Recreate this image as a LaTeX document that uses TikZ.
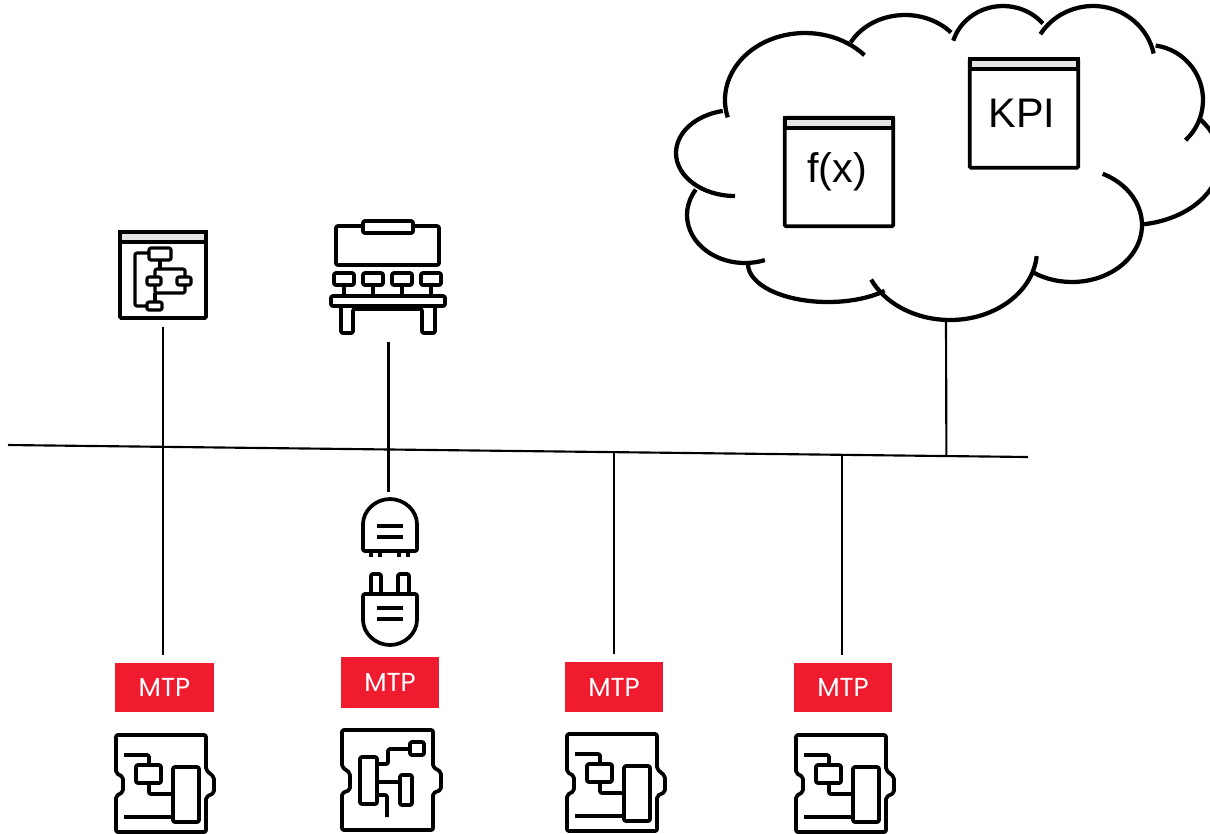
\documentclass[tikz,border=0pt]{standalone}
\usepackage{fontspec}
\setmainfont{Liberation Sans}
\newfontfamily\mtpfont{Poppins}
\usetikzlibrary{positioning}

\definecolor{mtpred}{HTML}{EE1C2E}
\definecolor{barfill}{HTML}{E4E4E4}

\tikzset{
    cloudline/.style={line width=3.2pt, line cap=butt},
    wire/.style={line width=1.6pt},
    iconline/.style={line width=2.8pt, line join=round, rounded corners=1.5pt},
    window/.style={draw, line width=2.8pt, rectangle, rounded corners=1pt, inner sep=0pt, fill=white, font=\fontsize{31}{31}\selectfont},
    mtpbox/.style={fill=mtpred, text=white, inner sep=0pt, minimum width=74pt, minimum height=37pt, font=\mtpfont\fontsize{19.5}{19.5}\selectfont},
    iconbox/.style={rectangle, inner sep=0pt},
    pics/modulea/.style={code={
        \draw[iconline] (0,0) -- (0,38) -- (7,42) -- (7,57) -- (0,61) -- (0,97) -- (90,97) -- (90,62)
            -- (98,58) -- (98,42) -- (90,35) -- (90,0) -- cycle;
        \draw[iconline] (8,20) -- (33,20) -- (33,30);
        \draw[iconline] (20,30) rectangle (45,48);
        \draw[iconline] (33,48) -- (33,59) -- (57,59);
        \draw[iconline] (57,32) rectangle (83,87);
        \draw[iconline] (8,82) -- (57,82);
    }},
    pics/moduleb/.style={code={
        \draw[iconline] (0,0) -- (0,37) -- (8,43) -- (8,60) -- (0,63) -- (0,100) -- (91,100) -- (91,63)
            -- (99,60) -- (99,42) -- (91,37) -- (91,0) -- cycle;
        \draw[iconline] (18,27) rectangle (35,74);
        \draw[iconline] (35,34) -- (46,34) -- (46,19) -- (68,19);
        \draw[iconline] (68,12) rectangle (82,25);
        \draw[iconline] (35,52) -- (58,52);
        \draw[iconline] (58,45) rectangle (70,75);
        \draw[iconline] (35,65) -- (45,65) -- (45,87);
    }},
}

\newcommand{\titlebar}[1]{\draw[line width=2.8pt, fill=barfill] ([xshift=1.4pt, yshift=-1.4pt]#1.north west) rectangle ([xshift=-1.4pt, yshift=-9pt]#1.north east);}
% one lobe of the cloud: centre x, centre y, x radius, y radius, first angle, last angle
\newcommand{\lobe}[6]{\draw[cloudline] ({#1+#3*cos(#5)},{#2+#4*sin(#5)}) arc[start angle=#5, end angle=#6, x radius=#3, y radius=#4];}

\begin{document}
\begin{tikzpicture}[x=0.75pt, y=-0.75pt]
    \useasboundingbox (0,0) rectangle (1210,833);

    % cloud
    \lobe{805}{100}{80}{67}{165}{318}
    \lobe{905}{68}{62}{53}{209}{318}
    \lobe{1003}{55}{52}{49}{197}{320}
    \lobe{1093}{66}{62}{60}{212}{348}
    \lobe{1148}{100}{55}{55}{278}{407}
    \lobe{1130}{160}{90}{65}{320}{441}
    \lobe{1072}{225}{70}{57}{296}{483}
    \lobe{950}{250}{87}{70}{5}{155}
    \lobe{828}{264}{80}{38}{45}{180}
    \lobe{745}{215}{58}{48}{70}{212}
    \lobe{735}{153}{59}{43}{90}{258}
    \coordinate (cloudfoot) at (946,320);

    \node[window, minimum width=81.5pt, minimum height=81.5pt] (kpi) at (1024,113.5) {\raisebox{-2pt}{\kern-3pt KPI}};
    \node[window, minimum width=81.5pt, minimum height=81.5pt] (fx) at (839,172) {\raisebox{-2.5pt}{\kern-3pt f(x)}};
    \titlebar{kpi}
    \titlebar{fx}

    % icons on top
    \node[window, minimum width=64.5pt, minimum height=64.5pt] (flow) at (163,275) {};
    \titlebar{flow}
    \begin{scope}[iconline/.append style={line width=2.4pt}]
    \draw[iconline] (149,248) rectangle (171,260);
    \draw[iconline] (160,260) -- (160,269);
    \draw[iconline] (155,277) -- (155,269) -- (185,269) -- (185,277);
    \draw[iconline] (147,277) rectangle (161,285);
    \draw[iconline] (177,277) rectangle (191,285);
    \draw[iconline] (155,285) -- (155,293) -- (185,293) -- (185,285);
    \draw[iconline] (155,293) -- (155,302);
    \draw[iconline] (147,302) rectangle (162,310);
    \draw[iconline] (149,253) -- (135,253) -- (135,306) -- (147,306);
    \end{scope}

    \node[iconbox, minimum width=87pt, minimum height=85pt] (bench) at (388.5,278) {};
    \draw[iconline] (336,226) rectangle (439,265);
    \draw[iconline, fill=white] (363,221) rectangle (413,233);
    \foreach \x in {334,363,392,421} {
        \draw[iconline] (\x,273) rectangle (\x+20,285);
        \draw[iconline] (\x+10,285) -- (\x+10,296);
    }
    \draw[iconline] (331,296) rectangle (445,306);
    \draw[iconline] (341,306) -- (341,333) -- (353,333) -- (353,309) -- (422,309) -- (422,333) -- (435,333) -- (435,306);

    % socket and plug
    \node[iconbox, minimum width=40pt, minimum height=44pt] (socket) at (390,528) {};
    \draw[iconline] (363,551) -- (363,526) arc[start angle=180, end angle=360, radius=27] -- (417,551) -- cycle;
    \draw[iconline] (377,526) -- (403,526) (377,537) -- (403,537);
    \foreach \x in {371,380,399,408} {
        \draw[line width=2.4pt] (\x,551) -- (\x,557);
    }
    \draw[iconline] (371,594) -- (371,574) -- (381,574) -- (381,594);
    \draw[iconline] (398,594) -- (398,574) -- (409,574) -- (409,594);
    \draw[iconline] (363,594) -- (417,594) -- (417,618) arc[start angle=0, end angle=180, radius=27] -- cycle;
    \draw[iconline] (377,608) -- (403,608) (377,619) -- (403,619);

    % bottom row
    \node[mtpbox] (mtpa) at (164.5,687.5) {MTP};
    \node[mtpbox, minimum height=38pt] (mtpb) at (390,682.5) {MTP};
    \node[mtpbox] (mtpc) at (614,687) {MTP};
    \node[mtpbox] (mtpd) at (843,687.5) {MTP};

    \pic at (116,735) {modulea};
    \pic at (342,730) {moduleb};
    \pic at (567,734) {modulea};
    \pic at (796,735) {modulea};

    % bus and connectors
    \coordinate (busleft) at (8,445);
    \coordinate (busright) at (1028,457);
    \draw[wire] (busleft) -- coordinate[pos=.594] (tapc) coordinate[pos=.818] (tapd) coordinate[pos=.92] (tapcloud) (busright);
    \draw[wire, shorten <=5pt, shorten >=6pt] (flow.south) -- (flow.south |- mtpa.north);
    \draw[wire, shorten <=5pt, shorten >=5pt] (bench.south) -- (bench.south |- socket.north);
    \draw[wire, shorten >=6pt] (tapc) -- (tapc |- mtpc.north);
    \draw[wire, shorten >=6pt] (tapd) -- (tapd |- mtpd.north);
    \draw[wire] (cloudfoot) -- (tapcloud);
\end{tikzpicture}
\end{document}
